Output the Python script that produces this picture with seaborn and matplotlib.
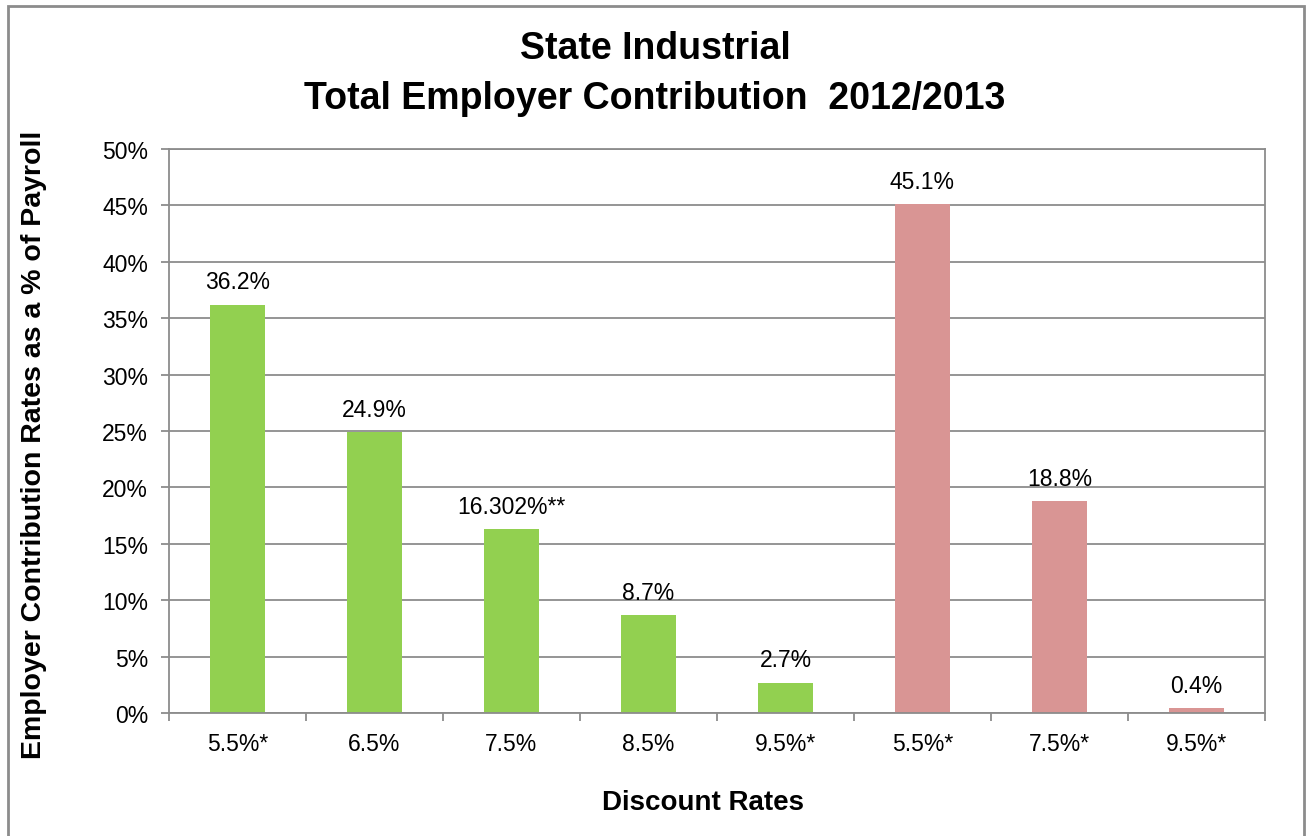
import matplotlib
matplotlib.use("Agg")
import matplotlib.pyplot as plt
import seaborn as sns
import pandas as pd
from matplotlib.patches import Rectangle

categories = ["5.5%*", "6.5%", "7.5%", "8.5%", "9.5%*", "5.5%*", "7.5%*", "9.5%*"]
values = [36.2, 24.9, 16.302, 8.7, 2.7, 45.1, 18.8, 0.4]
labels = ["36.2%", "24.9%", "16.302%**", "8.7%", "2.7%", "45.1%", "18.8%", "0.4%"]
groups = ["A", "A", "A", "A", "A", "B", "B", "B"]
palette = {"A": "#92D050", "B": "#D99594"}

df = pd.DataFrame({"pos": range(len(categories)), "value": values, "group": groups})

sns.set_theme(style="white")
plt.rcParams["font.family"] = ["Liberation Sans", "DejaVu Sans"]
plt.rcParams["text.color"] = "black"
plt.rcParams["xtick.color"] = "black"
plt.rcParams["ytick.color"] = "black"
plt.rcParams["axes.labelcolor"] = "black"

fig = plt.figure(figsize=(13.06, 8.37), dpi=100)
ax = fig.add_axes([169/1306, 1 - 714/837, (1265-169)/1306, (714-150)/837])

sns.barplot(data=df, x="pos", y="value", hue="group", palette=palette,
            dodge=False, width=0.4, legend=False, ax=ax, saturation=1,
            linewidth=0)

ax.set_ylim(0, 50)
ax.set_xlim(-0.5, len(categories) - 0.5)
ax.set_yticks(range(0, 51, 5))
ax.set_yticklabels([f"{v}%" for v in range(0, 51, 5)], fontsize=16.5)
ax.yaxis.grid(True, color="#8c8c8c", linewidth=1.3)
ax.set_axisbelow(True)

ax.set_xticks(range(len(categories)))
ax.set_xticklabels(categories, fontsize=16.5)
ax.tick_params(axis="x", which="major", length=0, pad=14)
ax.set_xticks([i - 0.5 for i in range(len(categories) + 1)], minor=True)
ax.tick_params(axis="x", which="minor", length=6, width=1.3, color="#8c8c8c", direction="out", bottom=True)
ax.tick_params(axis="y", which="major", length=6, width=1.3, color="#8c8c8c", direction="out", pad=9, left=True)

for s in ax.spines.values():
    s.set_color("#8c8c8c")
    s.set_linewidth(1.3)
    s.set_visible(True)

for i, (v, lab) in enumerate(zip(values, labels)):
    ax.text(i, v + 1.0, lab, ha="center", va="bottom", fontsize=16.5, color="black")

ax.set_xlabel("Discount Rates", fontsize=20, fontweight="bold", labelpad=24)
ax.xaxis.label.set_x((703 - 169) / 1096)
ax.set_ylabel("Employer Contribution Rates as a % of Payroll", fontsize=20.5,
              fontweight="bold", labelpad=40)
ax.yaxis.label.set_y((714 - 445) / 564)

fig.text(655/1306, 1 - 74/837, "State Industrial\nTotal Employer Contribution  2012/2013",
         ha="center", va="center", fontsize=27, fontweight="bold", linespacing=1.5)

fig.patches.append(Rectangle((8/1306, -0.01), (1304-8)/1306, 1 - 7/837 + 0.01,
                             transform=fig.transFigure, fill=False,
                             edgecolor="#8c8c8c", linewidth=2))

fig.savefig("out.png", dpi=100)
